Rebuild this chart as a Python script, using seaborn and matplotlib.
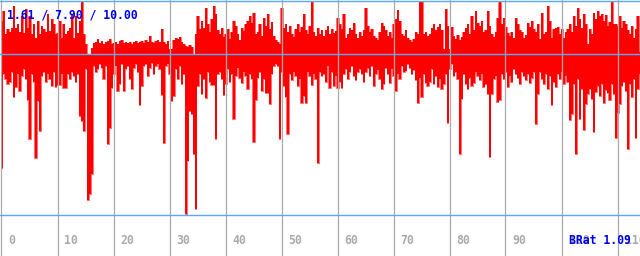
import numpy as np
import matplotlib
matplotlib.use("Agg")
import matplotlib.pyplot as plt
import seaborn as sns
import pandas as pd

# ---- data (amplitude per 2-pixel column, up positive) ----
top_env = [
    33,43,20,25,22,26,48,26,30,22,
    38,21,45,26,38,20,30,16,33,20,
    28,25,22,40,23,35,30,20,21,33,
    16,30,20,23,26,40,16,38,21,33,
    52,20,10,0,0,6,11,12,15,11,
    13,10,12,13,15,10,11,12,10,13,
    14,11,12,11,12,10,12,13,11,12,
    13,11,14,12,18,12,11,13,14,12,
    25,12,10,13,5,5,14,16,15,17,
    12,10,8,7,9,7,0,20,38,25,
    33,26,46,30,22,35,48,40,24,20,
    26,17,20,25,15,22,33,28,20,14,
    26,23,30,33,38,31,41,20,22,30,
    18,36,28,40,25,32,18,14,12,10,
    46,26,30,22,28,20,17,25,30,22,
    27,40,24,20,28,52,22,18,26,20,
    24,18,24,28,20,25,21,23,36,30,
    25,40,16,20,26,24,31,20,16,22,
    18,24,46,28,22,25,18,16,14,22,
    31,28,24,18,22,16,30,35,44,33,
    20,18,24,16,14,12,15,22,20,52,
    52,20,22,18,20,26,30,24,27,30,
    24,5,45,28,5,27,18,15,19,14,
    17,22,26,30,20,38,24,43,31,28,
    33,22,24,43,28,20,17,22,36,52,
    30,36,27,21,18,22,16,36,30,24,
    22,16,19,31,27,33,25,22,30,15,
    41,20,22,48,33,16,25,26,27,20,
    25,16,22,25,30,22,38,28,46,35,
    26,40,30,10,25,20,41,35,43,38,
    40,33,39,28,32,52,30,30,28,38,
    26,33,30,24,20,28,16,25,38,2,
]
bottom_env = [
    -114,-20,-25,-30,-28,-18,-43,-33,-20,-37,
    -22,-15,-25,-46,-85,-20,-28,-104,-47,-77,
    -22,-18,-28,-20,-25,-32,-18,-33,-31,-31,
    -20,-34,-34,-20,-25,-18,-22,-28,-20,-62,
    -67,-77,-15,-146,-140,-120,-12,-18,-15,-10,
    -14,-25,-12,-90,-74,-34,-20,-12,-37,-30,
    -10,-37,-15,-12,-25,-35,-14,-10,-18,-51,
    -32,-12,-10,-22,-14,-9,-20,-12,-10,-15,
    -41,-89,-12,-10,-20,-47,-42,-15,-25,-12,
    -30,-20,-160,-107,-57,-60,-100,-155,-32,-20,
    -40,-25,-44,-18,-28,-31,-31,-85,-20,-18,
    -25,-41,-30,-15,-28,-20,-65,-22,-14,-24,
    -29,-18,-22,-35,-20,-25,-88,-46,-24,-18,
    -37,-25,-39,-39,-50,-20,-12,-10,-12,-85,
    -18,-32,-43,-80,-20,-26,-18,-22,-32,-25,
    -49,-42,-49,-18,-22,-31,-20,-25,-109,-18,
    -22,-20,-28,-12,-34,-18,-32,-22,-34,-28,
    -34,-20,-15,-25,-18,-12,-22,-26,-18,-15,
    -20,-28,-18,-14,-22,-12,-32,-20,-16,-25,
    -35,-30,-14,-20,-29,-15,-22,-37,-20,-25,
    -12,-18,-17,-10,-14,-20,-16,-26,-49,-24,
    -43,-20,-29,-32,-28,-15,-30,-22,-33,-25,
    -35,-30,-20,-69,-15,-10,-22,-18,-25,-100,
    -45,-20,-30,-35,-24,-32,-29,-18,-22,-26,
    -20,-33,-30,-40,-103,-40,-25,-22,-48,-46,
    -20,-25,-18,-33,-22,-28,-15,-20,-24,-30,
    -18,-22,-26,-20,-29,-24,-18,-70,-40,-18,
    -25,-30,-20,-35,-22,-51,-28,-33,-20,-25,
    -18,-30,-22,-28,-66,-60,-30,-100,-25,-65,
    -35,-76,-50,-40,-35,-45,-78,-38,-32,-42,
    -30,-49,-36,-39,-46,-30,-40,-84,-59,-50,
    -32,-28,-37,-95,-30,-43,-25,-84,-35,-20,
]
x_step = 100 / 280          # x units per sample
tick_values = list(range(0, 120, 10))
tick_labels = [str(v) for v in tick_values]
title_text = "1.61 / 7.90 / 10.00"
corner_text = "BRat 1.09"

df = pd.DataFrame({
    "x": np.arange(len(top_env)) * x_step,
    "top": top_env,
    "bottom": bottom_env,
})

sns.set_theme(style="white")
plt.rcParams["font.family"] = ["DejaVu Sans Mono", "DejaVu Sans"]

fig = plt.figure(figsize=(6.4, 2.56), dpi=100)
ax = fig.add_axes([0, 0, 1, 1])
ax.set_facecolor("white")

red = "#ff0000"
ax.fill_between(df["x"], df["bottom"], df["top"], step="mid",
                color=red, linewidth=0, zorder=2)
sns.lineplot(data=df, x="x", y="top", ax=ax, color=red, lw=0.4,
             drawstyle="steps-mid", zorder=2)
sns.lineplot(data=df, x="x", y="bottom", ax=ax, color=red, lw=0.4,
             drawstyle="steps-mid", zorder=2)

# grid
for v in tick_values:
    ax.axvline(v, color="#aaaaaa", lw=0.9, zorder=3)
blue = "#5aa8f8"
for yv in (52.5, 0, -161):
    ax.axhline(yv, color=blue, lw=1.0, zorder=4)

ax.set_xlim(-1.5 / 5.6, (640 - 1.5) / 5.6)
ax.set_ylim(-202.5, 53.5)
ax.set_xticks([])
ax.set_yticks([])
for s in ax.spines.values():
    s.set_visible(False)
ax.set_xlabel("")
ax.set_ylabel("")

# tick labels
for v, lab in zip(tick_values, tick_labels):
    ax.text(v + 7 / 5.6, -187.5, lab, color="#aaaaaa", fontsize=8.3,
            fontweight="bold", ha="left", va="center", zorder=5)

ax.text(5.5 / 5.6, 38.5, title_text, color="#0000ee", fontsize=8.3,
        fontweight="bold", ha="left", va="center", zorder=6)
ax.text(567.5 / 5.6, -187.5, corner_text, color="#0000ee", fontsize=8.3,
        fontweight="bold", ha="left", va="center", zorder=6)

fig.savefig("out.png", dpi=100)
